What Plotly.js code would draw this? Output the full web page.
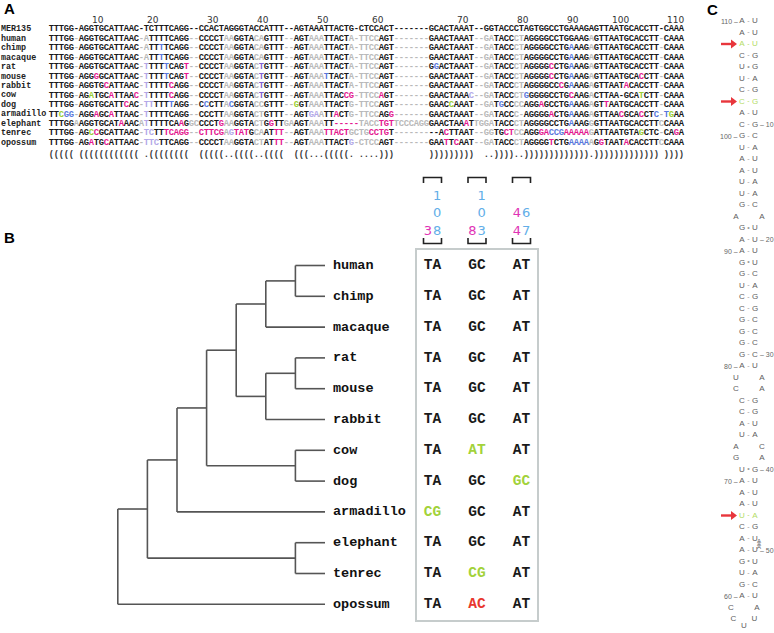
<!DOCTYPE html>
<html><head><meta charset="utf-8">
<script src="https://cdn.plot.ly/plotly-3.0.1.min.js"></script>
<style>html,body{margin:0;padding:0;background:#fff}</style>
</head><body>
<div id="chart" style="width:774px;height:633px"></div>
<script>
// ================= DATA =================
// Panel A: alignment (blocks separated by | only for readability)
const alignNames = ['MER135','human','chimp','macaque','rat','mouse','rabbit','cow','dog','armadillo','elephant','tenrec','opossum'];
const seqMER135   = 'TTTGG|-|AGGTGCATTAAC|-|TCTTTCAGG|--|CCACTAGGGTACCATTT|--|AGTAAATTACTG|-|CTCCACT|-------|GCACTAAAT|--|GGTACCCTAGTGGCCTGAAAGAGTTAATGCACCTT|-|CAAA';
const seqHuman    = 'TTTGG|-|AGGTGCATTAAC|-|ATTTTCAGG|--|CCCCTAAGGTACAGTTT|--|AGTAAATTACTA|-|TTCCAGT|-------|GAACTAAAT|--|GATACCCTAGGGGCCTGGAAGAGTTAATGCACCTT|-|CAAA';
const seqChimp    = 'TTTGG|-|AGGTGCATTAAC|-|ATTTTCAGG|--|CCCCTAAGGTACAGTTT|--|AGTAAATTACTA|-|TTCCAGT|-------|GAACTAAAT|--|GATACCCTAGGGGCCTGAAAGAGTTAATGCACCTT|-|CAAA';
const seqMacaque  = 'TTTGG|-|AGGTGCATTAAC|-|ATTTTCAGG|--|CCCCTAAGGTACAGTTT|--|AGTAAATTACTA|-|TTCCAGT|-------|GAACTAAAT|--|GATACCCTAGGGGCCTGAAAGAGTTAATGCACCTT|-|CAAA';
const seqRat      = 'TTTGG|-|AGGTGCATTAAC|-|TTTTTCAGT|--|CCCCTAAGGTACTGTTT|--|AGTAAATTACTA|-|TTCCAGT|-------|GGACTAAAT|--|GATACCCTAGGGGCCTGAAAGAGTTAATGCACCTT|-|CAAA';
const seqMouse    = 'TTTGG|-|AGGGGCATTAAC|-|TTTTTCAGT|--|CCCCTAAGGTACTGTTT|--|AGTAAATTACTA|-|TTCCAGT|-------|GAACTAAAT|--|GATACCCTAGGGGCCTGAAAGAGTTAATGCACCTT|-|CAAA';
const seqRabbit   = 'TTTGG|-|AGGTGCATTAAC|-|TTTTTCAGG|--|CCCCTAAGGTACTGTTT|--|AGTAAATTACTA|-|TTCCAGT|-------|GAACTAAAT|--|GATACCCTAGGGGCCCGAAAGAGTTAATACACCTT|-|CAAA';
const seqCow      = 'TTTGG|-|AGATGCATTAAC|-|TTTTTCAGG|--|CCCCTAAGGTACTGTTT|--|AGTAAATTACCG|-|TTCCAGT|-------|GAACTAAAC|--|GATACCCTGGGGGCCTGCAAGACTTAA-GCATCTT|-|CAAA';
const seqDog      = 'TTTGG|-|AGGTGCATTCAC|-|TTTTTTAGG|--|CCCTTACGGTACCGTTT|--|GGTAAATTACTG|-|TTCCAGT|-------|GAACCAAAT|--|GATGCCCCAGGAGCCTGAAAGAGTTAATGCACCTT|-|CAAA';
const seqArmadillo= 'TTCGG|-|AGGAGCATTAAC|-|TTTTTCAGG|--|CCCTTAAGGTACTGTTT|--|AGTGAATTACTG|-|TTCCAGG|-------|GAACTAAAT|--|GATACCC-AGGGGACTGAAAGAGTTAACGCACCTC|-|TGAA';
const seqElephant = 'TTTGG|A|AGGTGCATAAAC|A|TTTTTCAAG|GC|CCCTGAAGGTACTGGTT|GA|AGTAAATT----|-|TACCTGT|TCCCAGG|GAACTAAAT|TG|GATACCCTAGGGGCCTGAAAGGGTTAATGCACCTT|C|CAAA';
const seqTenrec   = 'TTTGG|-|AGCCGCATTAAC|-|TCTTTCAGG|--|CTTCGAGTATGCAATTT|--|AGTAAATTACTG|C|TGCCTGT|-------|--ACTTAAT|--|GGTGCTCCAGGGACCGAAAAAGATTAATGTAGCTC|-|CAGA';
const seqOpossum  = 'TTTGG|-|AGATGCATTAAC|-|TTCTTCAGG|--|CCCCTAAGGTACTATTT|--|AGTAAATTACTG|-|CTCCAGT|-------|GAATTCAAT|--|GATACCCTAGGGGTCTGAAAAAGGTAATACACCTT|C|CAAA';
// highlighted cells: column number + colour code (m magenta, b blue, l lavender, g green, p purple)
const alignHighlights = [
  [], [],
  ['23b','105b'],
  ['23b','105b'],
  ['20l','24b','28m','43p','78b','101m','105b'],
  ['10m','20l','24b','28m','43p','56b','101m','105b','119m'],
  ['12m','20l','25m','43p','103m','105b','116m'],
  ['9g','13m','18m','20l','25m','43p','60m','61m','67m','85l','96b','105m','119g'],
  ['16m','20l','21l','25b','32b','37b','50g','81g','91b','99m','105b','112m'],
  ['3g','4b','5b','10m','13m','20l','53l','54l','58m','69m','101m','105b','115m','119m','122b','124b','125g'],
  ['15m','20l','27m','35m','45m','58m','59m','60m','61m','62m','67m','68m','69m','84m','105b'],
  ['9g','10m','20l','21l','24m','25m','26m','27m','28m','31m','32m','33m','34m','35m','37l','38m','39m','40m','46m','47m','56m','57m','58m','59m','60m','65m','66m','67m','68m','80m','92m','93m','99m','100m','101b','102b','103b','104m','105m','106m','107m','108m','119g','126m'],
  ['9m','12m','20l','21l','22l','46m','47m','61l','80m','82m','101m','105b','106b','107b','108b','111m','116m']
];
// consensus secondary structure (run-length: char, count)
const structRuns = [['(',5],[' ',1],['(',12],[' ',1],['.',1],['(',8],[' ',2],['(',5],['.',2],['(',4],['.',2],['(',4],[' ',2],['(',3],['.',3],['(',5],['.',1],[' ',1],['.',4],[')',3],[' ',7],[')',9],[' ',2],['.',2],[')',4],['.',2],[')',13],['.',1],[')',13],[' ',1],[')',4]];

// Panel B: tree and base pairs
const treeSpecies = ['human','chimp','macaque','rat','mouse','rabbit','cow','dog','armadillo','elephant','tenrec','opossum'];
const treeTopology = [[[[[[['human','chimp'],'macaque'],[['rat','mouse'],'rabbit']],['cow','dog']],'armadillo'],['elephant','tenrec']],'opossum'];
const pairLeftPos  = ['3','8','44'];
const pairRightPos = ['108','103','67'];
const pair3_108  = ['TA','TA','TA','TA','TA','TA','TA','TA','CG','TA','TA','TA'];
const pair8_103  = ['GC','GC','GC','GC','GC','GC','AT','GC','GC','GC','CG','AC'];
const pair44_67  = ['AT','AT','AT','AT','AT','AT','AT','GC','AT','AT','AT','AT'];

// ================= LAYOUT CONSTANTS =================
const CLR = {m:'#e4198f', b:'#5a78dc', l:'#b3a8e8', g:'#9acd32', p:'#7f5fd0', dark:'#1a1a1a', gray:'#b9b9b9'};
const MONO = 'Liberation Mono, Courier New, monospace';
const SANS = 'Liberation Sans, Arial, sans-serif';
const A_X0 = 49, A_COLW = 5, A_ROW0 = 29.3, A_ROWH = 9.45, A_STRUCT_Y = 154.5, A_RULER_Y = 19.5;
const B_TIP0 = 265.5, B_TIPH = 30.8, B_TIPX = 325, B_STEP = 29.6, B_LABEL_X = 333;
const B_COLX = [432.5, 477, 521.5], B_HEAD_Y = [197, 214, 231.5];
const C_Y0 = 21, C_ROWH = 11.5, C_XL = 742, C_XR = 755, C_LXL = 736, C_LXR = 762;

const traces = [], annotations = [], shapes = [];
const NCOL = 127;
const fix = s => { s = s.replace(/\|/g,''); while (s.length < NCOL) s += '-'; return s.slice(0, NCOL); };
const seqs = [seqMER135,seqHuman,seqChimp,seqMacaque,seqRat,seqMouse,seqRabbit,seqCow,seqDog,seqArmadillo,seqElephant,seqTenrec,seqOpossum].map(fix);
const struct = structRuns.map(([c,n]) => c.repeat(n)).join('');

// ================= PANEL A =================
const aX=[], aY=[], aT=[], aC=[];
seqs.forEach((s, r) => {
  const hl = {};
  alignHighlights[r].forEach(h => { hl[parseInt(h,10)] = CLR[h.slice(-1)]; });
  const y = A_ROW0 + r*A_ROWH;
  for (let c=0; c<NCOL; c++) {
    let col;
    if (r === 0) col = CLR.dark;
    else if (hl[c+1]) col = hl[c+1];
    else col = (struct[c] === '(' || struct[c] === ')') ? CLR.dark : CLR.gray;
    aX.push(A_X0 + (c+0.5)*A_COLW); aY.push(y); aT.push(s[c]); aC.push(col);
  }
  annotations.push({x:1, y, xref:'x', yref:'y', xanchor:'left', yanchor:'middle', showarrow:false,
    text:'<b>'+alignNames[r]+'</b>', font:{family:MONO, size:8.4, color:'#222'}, borderpad:0, borderwidth:0});
});
for (let c=0; c<NCOL; c++) {
  if (struct[c] === ' ') continue;
  aX.push(A_X0 + (c+0.5)*A_COLW); aY.push(A_STRUCT_Y); aT.push(struct[c]); aC.push('#3a3a3a');
}
traces.push({type:'scatter', mode:'text', x:aX, y:aY, text:aT, textposition:'middle center',
  textfont:{family:MONO, size:8.8, color:aC, weight:700}, hoverinfo:'skip', cliponaxis:false});
// ruler
let cnt = 0;
for (let c=0; c<NCOL; c++) {
  if (seqs[0][c] === '-') continue;
  cnt++;
  if (cnt % 10 === 0) annotations.push({x:A_X0 + (c+1)*A_COLW, y:A_RULER_Y, xref:'x', yref:'y', xanchor:'right', yanchor:'middle',
    showarrow:false, text:String(cnt), font:{family:'DejaVu Sans, sans-serif', size:9, color:'#333'}, borderpad:0, borderwidth:0});
}

// ================= PANEL B =================
const tX=[], tY=[];
function placeNode(node) {
  if (typeof node === 'string') return {x:B_TIPX, y:B_TIP0 + treeSpecies.indexOf(node)*B_TIPH, h:0};
  const kids = node.map(placeNode);
  const h = Math.max(...kids.map(k => k.h)) + 1;
  const x = B_TIPX - h*B_STEP;
  const y = (kids[0].y + kids[kids.length-1].y)/2;
  tX.push(x, x, null); tY.push(kids[0].y, kids[kids.length-1].y, null);
  kids.forEach(k => { tX.push(x, k.x, null); tY.push(k.y, k.y, null); });
  return {x, y, h};
}
placeNode(treeTopology);
traces.push({type:'scatter', mode:'lines', x:tX, y:tY, line:{color:'#555', width:1.6}, hoverinfo:'skip', cliponaxis:false});
treeSpecies.forEach((sp, i) => annotations.push({x:B_LABEL_X, y:B_TIP0 + i*B_TIPH, xref:'x', yref:'y', xanchor:'left', yanchor:'middle',
  showarrow:false, text:'<b>'+sp+'</b>', font:{family:MONO, size:13.5, color:'#111'}, borderpad:0, borderwidth:0}));

// table
const validPairs = ['AT','TA','GC','CG','GT','TG'];
const tabX=[], tabY=[], tabT=[], tabC=[];
[pair3_108, pair8_103, pair44_67].forEach((vals, k) => {
  vals.forEach((v, i) => {
    tabX.push(B_COLX[k]); tabY.push(B_TIP0 + i*B_TIPH); tabT.push(v);
    tabC.push(v === vals[0] ? '#1a1a1a' : (validPairs.includes(v) ? '#a2d23a' : '#e8372e'));
  });
});
traces.push({type:'scatter', mode:'text', x:tabX, y:tabY, text:tabT, textposition:'middle center',
  textfont:{family:MONO, size:14.5, color:tabC, weight:700}, hoverinfo:'skip', cliponaxis:false});
// header digits (vertical numbers)
const hX=[], hY=[], hT=[], hC=[];
B_COLX.forEach((cx, k) => {
  [[pairLeftPos[k], cx-4.6, '#e033b5'], [pairRightPos[k], cx+4.6, '#62aee8']].forEach(([num, x, col]) => {
    const digits = num.split('');
    digits.forEach((d, j) => { hX.push(x); hY.push(B_HEAD_Y[3 - digits.length + j]); hT.push(d); hC.push(col); });
  });
});
traces.push({type:'scatter', mode:'text', x:hX, y:hY, text:hT, textposition:'middle center',
  textfont:{family:'DejaVu Sans, sans-serif', size:13, color:hC}, hoverinfo:'skip', cliponaxis:false});
// brackets
const brX=[], brY=[];
B_COLX.forEach(cx => {
  brX.push(cx-9, cx-9, cx+9, cx+9, null); brY.push(183, 177.5, 177.5, 183, null);
  brX.push(cx-9, cx-9, cx+9, cx+9, null); brY.push(238, 243.5, 243.5, 238, null);
});
traces.push({type:'scatter', mode:'lines', x:brX, y:brY, line:{color:'#222', width:1.6}, hoverinfo:'skip', cliponaxis:false});
shapes.push({type:'rect', xref:'x', yref:'y', x0:416, x1:538, y0:249, y1:621, line:{color:'#c6cccc', width:2}});

// ================= PANEL C =================
const human = seqs[1];
const nts = [];
for (let c=0; c<NCOL; c++) if (human[c] !== '-') nts.push({b: human[c] === 'T' ? 'U' : human[c], s: struct[c]});
const n = nts.length;
const partner = new Array(n).fill(-1), stack = [];
nts.forEach((d, i) => { if (d.s === '(') stack.push(i); else if (d.s === ')') { const j = stack.pop(); partner[i] = j; partner[j] = i; } });
const highlightRight = pairLeftPos.map(p => parseInt(p,10) - 1);
const cX=[], cY=[], cT=[], cC=[], cS=[];
const where = {};
const GRAYC = '#5e5e5e', GREENC = '#b3dc66';
function addC(x, y, t, col, size) { cX.push(x); cY.push(y); cT.push(t); cC.push(col); cS.push(size); }
const arrowRows = [];
let i = 0, j = n-1, row = 0, hairpin = null;
while (i < j) {
  const y = C_Y0 + row*C_ROWH;
  if (partner[i] === j) {
    const hi = highlightRight.includes(i);
    const col = hi ? GREENC : GRAYC;
    addC(C_XL, y, nts[j].b, col, 8); addC(C_XR, y, nts[i].b, col, 8);
    const gu = (nts[i].b + nts[j].b === 'GU' || nts[i].b + nts[j].b === 'UG');
    addC((C_XL + C_XR)/2, y, gu ? '•' : '-', hi ? GREENC : '#9a9a9a', 7);
    where[i] = {side:'R', y}; where[j] = {side:'L', y};
    if (hi) arrowRows.push(y);
    i++; j--; row++;
  } else if (partner[i] < 0 && partner[j] < 0) {
    let hp = true; for (let k=i; k<=j; k++) if (partner[k] >= 0) hp = false;
    if (hp) { hairpin = [i, j]; break; }
    addC(C_LXL, y, nts[j].b, GRAYC, 8); addC(C_LXR, y, nts[i].b, GRAYC, 8);
    where[i] = {side:'R', y}; where[j] = {side:'L', y};
    i++; j--; row++;
  } else if (partner[i] < 0) {
    const bul = []; while (partner[i] < 0) bul.push(i++);
    const yPrev = C_Y0 + (row-1)*C_ROWH;
    bul.forEach((b, k) => addC(C_XR + 4, yPrev + (k+1)*C_ROWH/(bul.length+1), nts[b].b, GRAYC, 6));
  } else {
    const bul = []; while (partner[j] < 0) bul.push(j--);
    const yPrev = C_Y0 + (row-1)*C_ROWH;
    bul.forEach((b, k) => addC(C_XL - 4, yPrev + (k+1)*C_ROWH/(bul.length+1), nts[b].b, GRAYC, 6));
  }
}
if (hairpin) {
  const [a, b] = hairpin, len = b - a + 1, half = Math.floor(len/2), mid = 744;
  for (let k=0; k<half; k++) {
    const y = C_Y0 + (row + k)*C_ROWH, w = 13 - 2.5*k;
    addC(mid + w, y, nts[a+k].b, GRAYC, 8); addC(mid - w, y, nts[b-k].b, GRAYC, 8);
    where[a+k] = {side:'R', y}; where[b-k] = {side:'L', y};
  }
  if (len % 2) addC(mid, C_Y0 + (row + half - 1 + 0.65)*C_ROWH, nts[a+half].b, GRAYC, 8);
}
traces.push({type:'scatter', mode:'text', x:cX, y:cY, text:cT, textposition:'middle center',
  textfont:{family:SANS, size:cS, color:cC}, hoverinfo:'skip', cliponaxis:false});
for (let p=10; p<=n; p+=10) {
  const w = where[p-1]; if (!w) continue;
  if (w.side === 'R') annotations.push({x:C_XR + 4.5, y:w.y, xref:'x', yref:'y', xanchor:'left', yanchor:'middle', showarrow:false,
    text:'– ' + p, font:{family:SANS, size:7, color:'#666'}, borderpad:0, borderwidth:0});
  else annotations.push({x:C_XL - 4.5, y:w.y, xref:'x', yref:'y', xanchor:'right', yanchor:'middle', showarrow:false,
    text:p + ' –', font:{family:SANS, size:7, color:'#666'}, borderpad:0, borderwidth:0});
}
// red arrows at highlighted pairs
const arX=[], arY=[];
arrowRows.forEach(y => { arX.push(721, 731, null); arY.push(y, y, null); });
traces.push({type:'scatter', mode:'lines', x:arX, y:arY, line:{color:'#e8363c', width:2.4}, hoverinfo:'skip', cliponaxis:false});
traces.push({type:'scatter', mode:'markers', x:arrowRows.map(() => 733), y:arrowRows,
  marker:{symbol:'triangle-right', size:8, color:'#e8363c'}, hoverinfo:'skip', cliponaxis:false});

// panel letters
[['A',9,8.5],['B',9,237],['C',712,9]].forEach(([t,x,y]) => annotations.push({x, y, xref:'x', yref:'y', xanchor:'center', yanchor:'middle',
  showarrow:false, text:'<b>'+t+'</b>', font:{family:SANS, size:15, color:'#000'}, borderpad:0, borderwidth:0}));

const layout = {
  width:774, height:633, margin:{l:0, r:0, t:0, b:0}, paper_bgcolor:'#fff', plot_bgcolor:'#fff', showlegend:false,
  xaxis:{range:[0,774], visible:false, fixedrange:true},
  yaxis:{range:[633,0], visible:false, fixedrange:true},
  shapes, annotations
};
Plotly.newPlot('chart', traces, layout, {staticPlot:true, displayModeBar:false});
</script>
</body></html>
